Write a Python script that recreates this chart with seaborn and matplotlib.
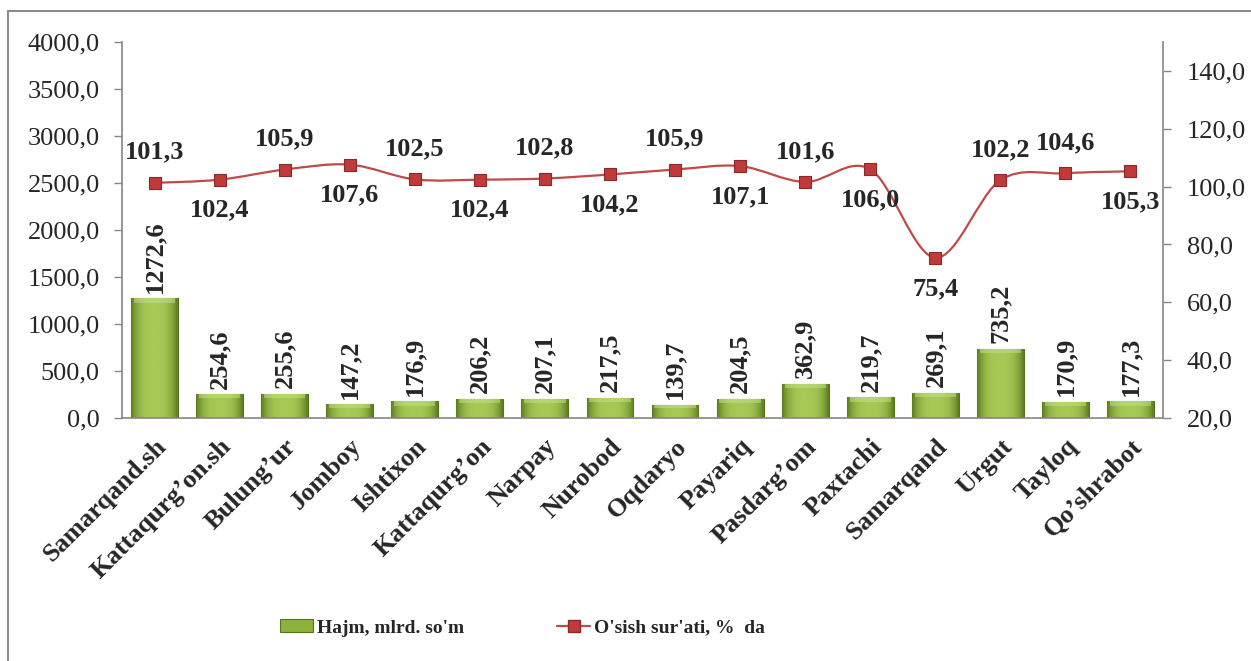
import numpy as np
import pandas as pd
import matplotlib
matplotlib.use("Agg")
import matplotlib.pyplot as plt
import seaborn as sns
from matplotlib.path import Path
from matplotlib.patches import PathPatch, Patch
from matplotlib.lines import Line2D
from matplotlib.ticker import FuncFormatter

# data
districts = ["Samarqand.sh", "Kattaqurg\u2019on.sh", "Bulung\u2019ur", "Jomboy", "Ishtixon",
             "Kattaqurg\u2019on", "Narpay", "Nurobod", "Oqdaryo", "Payariq", "Pasdarg\u2019om",
             "Paxtachi", "Samarqand", "Urgut", "Tayloq", "Qo\u2019shrabot"]
hajm = [1272.6, 254.6, 255.6, 147.2, 176.9, 206.2, 207.1, 217.5,
        139.7, 204.5, 362.9, 219.7, 269.1, 735.2, 170.9, 177.3]
osish = [101.3, 102.4, 105.9, 107.6, 102.5, 102.4, 102.8, 104.2,
         105.9, 107.1, 101.6, 106.0, 75.4, 102.2, 104.6, 105.3]

df = pd.DataFrame({"tuman": districts, "hajm": hajm, "osish": osish})

def comma(v, pos=None):
    return f"{v:.1f}".replace(".", ",")

sns.set_style("white")
plt.rcParams["font.family"] = ["Liberation Serif", "DejaVu Serif"]

fig = plt.figure(figsize=(12.51, 6.61), dpi=100)
ax = fig.add_axes([122 / 1251, 1 - 418 / 661, (1163 - 122) / 1251, (418 - 42) / 661])

bar_green = "#8db23c"
bar_edge = "#55721c"
sns.barplot(data=df, x="tuman", y="hajm", color=bar_green, width=0.72,
            edgecolor=bar_edge, linewidth=0.8, saturation=1, ax=ax, zorder=2)

# fake bevel: horizontal shading inside every bar
grad = np.linspace(0, 1, 64)
shade = 1 - 0.35 * (np.abs(grad - 0.5) * 2) ** 3
cmap = matplotlib.colors.LinearSegmentedColormap.from_list("g", ["#5d7d1f", "#a6c955"])
for p in ax.patches:
    x0, y0 = p.get_x(), p.get_y()
    w, h = p.get_width(), p.get_height()
    im = ax.imshow(shade[np.newaxis, :], extent=[x0, x0 + w, y0, y0 + h], aspect="auto",
                   cmap=cmap, vmin=0.65, vmax=1.0, zorder=2.5, origin="lower")
    im.set_clip_path(p)
    # light top band
    ax.fill_between([x0 + w * 0.06, x0 + w * 0.94], y0 + h - min(h * 0.25, 45), y0 + h,
                    color="#c5de86", alpha=0.55, zorder=2.6, lw=0)

for i, v in enumerate(hajm):
    ax.annotate(comma(v), (i, v), xytext=(0, 4), textcoords="offset points",
                rotation=90, ha="center", va="bottom", fontsize=19, fontweight="bold",
                zorder=5)

ax.set_xlim(-0.5, len(districts) - 0.5)
ax.set_ylim(0, 4000)
ax.set_yticks(np.arange(0, 4001, 500))
ax.yaxis.set_major_formatter(FuncFormatter(comma))
ax.set_xlabel("")
ax.set_ylabel("")
ax.set_xticks(range(len(districts)))
ax.set_xticklabels(districts, rotation=45, ha="right", rotation_mode="anchor",
                   fontsize=19, fontweight="bold")
ax.set_xticks(np.arange(-0.5, len(districts), 1), minor=True)
ax.tick_params(axis="x", which="major", length=0, pad=12)
ax.tick_params(axis="x", which="minor", length=6, color="#868686", width=1)
ax.tick_params(axis="y", length=6, color="#868686", width=1, labelsize=19, pad=10,
               left=True)

# right axis with growth rate
ax2 = ax.twinx()
ax2.set_ylim(20, 150)
ax2.set_yticks(np.arange(20, 141, 20))
ax2.yaxis.set_major_formatter(FuncFormatter(comma))
ax2.tick_params(axis="y", length=6, color="#868686", width=1, labelsize=19, pad=11,
                right=True)

for a in (ax, ax2):
    for s in a.spines.values():
        s.set_visible(False)
ax.spines["left"].set_visible(True)
ax.spines["bottom"].set_visible(True)
ax2.spines["right"].set_visible(True)
for s in (ax.spines["left"], ax.spines["bottom"], ax2.spines["right"]):
    s.set_color("#868686")
    s.set_linewidth(1.2)

# smoothed line (Catmull-Rom through the points, like Excel smoothing)
pts = np.column_stack([np.arange(len(osish)), osish]).astype(float)
ext = np.vstack([pts[0], pts, pts[-1]])
verts = [tuple(pts[0])]
codes = [Path.MOVETO]
for k in range(1, len(ext) - 2):
    p0, p1, p2, p3 = ext[k - 1], ext[k], ext[k + 1], ext[k + 2]
    c1 = p1 + (p2 - p0) / 6
    c2 = p2 - (p3 - p1) / 6
    verts += [tuple(c1), tuple(c2), tuple(p2)]
    codes += [Path.CURVE4] * 3
line_red = "#be4b48"
ax2.add_patch(PathPatch(Path(verts, codes), facecolor="none", edgecolor=line_red,
                        lw=1.6, zorder=3))
sns.scatterplot(data=df, x=np.arange(len(osish)), y="osish", marker="s", s=75,
                color="#c0393b", edgecolor="#8c2a28", linewidth=0.8, ax=ax2, zorder=4,
                legend=False)
ax2.set_ylabel("")

label_above = [True, False, True, False, True, False, True, False,
               True, False, True, False, False, True, True, False]
for i, v in enumerate(osish):
    dy = 22 if label_above[i] else -22
    ax2.annotate(comma(v), (i, v), xytext=(0, dy), textcoords="offset points",
                 ha="center", va="center", fontsize=19, fontweight="bold", zorder=6)

# legend
handles = [Patch(facecolor=bar_green, edgecolor=bar_edge, lw=0.8),
           Line2D([0], [0], color=line_red, lw=1.6, marker="s", markersize=8,
                  markerfacecolor="#c0393b", markeredgecolor="#8c2a28")]
fig.legend(handles, ["Hajm, mlrd. so'm", "O'sish sur'ati, %  da"], ncol=2,
           loc="center left", bbox_to_anchor=(270 / 1251, 0.05), frameon=False,
           prop={"size": 14, "weight": "bold"}, handlelength=1.7, handleheight=0.65,
           handletextpad=0.2, columnspacing=4.8, borderpad=0)

# outer chart frame (clipped at right and bottom in the original)
fx = 8 / 1251
fy = 1 - 11 / 661
fig.add_artist(Line2D([fx, fx], [0, fy], transform=fig.transFigure, color="#8c8c8c", lw=1.5))
fig.add_artist(Line2D([fx, 1], [fy, fy], transform=fig.transFigure, color="#8c8c8c", lw=1.5))

fig.savefig("out.png", dpi=100)
